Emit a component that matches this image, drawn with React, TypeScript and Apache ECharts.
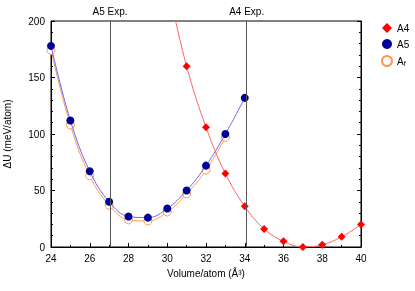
import React, { useEffect, useRef } from "react";
import * as echarts from "echarts";

const a5Volumes = [24, 25, 26, 27, 28, 29, 30, 31, 32, 33, 34];
const a5Values = [178, 112, 67, 40, 27, 26, 34, 50, 72, 100, 132];
const afVolumes = [24, 25, 26, 27, 28, 29, 30, 31, 32, 33];
const afValues = [174, 108, 63, 37, 24, 23, 31, 47, 68, 97];
const a4Volumes = [31, 32, 33, 34, 35, 36, 37, 38, 39, 40];
const a4Values = [160, 106, 65, 36, 16, 5, 0, 2, 9, 20];
// fitted A4 curve continues above the top of the frame
const a4FitStart = [30.2, 218];
const expLines = [
  { name: "A5 Exp.", volume: 27.05 },
  { name: "A4 Exp.", volume: 34.1 },
];
const xTicks = { min: 24, max: 40, step: 2 };
const yTicks = { min: 0, max: 200, step: 50 };

const FONT = "Liberation Sans, Arial, sans-serif";

export default function App() {
  const ref = useRef<HTMLDivElement>(null);
  useEffect(() => {
    if (!ref.current) return;
    const chart = echarts.init(ref.current, null, { renderer: "svg" });
    const zip = (xs: number[], ys: number[]) => xs.map((x, i) => [x, ys[i]]);
    chart.setOption({
      animation: false,
      textStyle: { fontFamily: FONT },
      grid: {
        left: 51, right: 54, top: 21, bottom: 44,
        outerBoundsMode: "none", containLabel: false,
        show: true, borderColor: "#000", borderWidth: 1,
      },
      legend: {
        orient: "vertical",
        left: 376,
        top: 18,
        itemGap: 6,
        itemWidth: 10,
        itemHeight: 10,
        textStyle: { fontSize: 10, color: "#000", fontFamily: FONT, rich: { sub: { fontSize: 7, verticalAlign: "bottom", padding: [5, 0, 0, 0] } } },
        formatter: (n: string) => (n === "Af" ? "A{sub|f}" : n),
        data: [
          { name: "A4", icon: "diamond" },
          { name: "A5", icon: "circle" },
          { name: "Af", icon: "circle" },
        ],
      },
      xAxis: [
        {
          type: "value",
          min: xTicks.min,
          max: xTicks.max,
          interval: xTicks.step,
          name: "Volume/atom (Å³)",
          nameLocation: "middle",
          nameGap: 21,
          nameTextStyle: { fontSize: 10, color: "#000" },
          axisLine: { lineStyle: { color: "#000" } },
          axisTick: { inside: true, length: 4, lineStyle: { color: "#000" } },
          minorTick: { show: true, splitNumber: 2, length: 2, lineStyle: { color: "#000" } },
          axisLabel: { fontSize: 10, color: "#000", margin: 6 },
          splitLine: { show: false },
        },
      ],
      yAxis: [
        {
          type: "value",
          min: yTicks.min,
          max: yTicks.max,
          interval: yTicks.step,
          name: "ΔU (meV/atom)",
          nameLocation: "middle",
          nameGap: 39,
          nameTextStyle: { fontSize: 10, color: "#000" },
          axisLine: { lineStyle: { color: "#000" } },
          axisTick: { inside: true, length: 4, lineStyle: { color: "#000" } },
          minorTick: { show: true, splitNumber: 5, length: 2, lineStyle: { color: "#000" } },
          axisLabel: { fontSize: 10, color: "#000", margin: 6 },
          splitLine: { show: false },
        },
        {
          type: "value",
          position: "right",
          min: yTicks.min,
          max: yTicks.max,
          interval: yTicks.step,
          axisLine: { show: true, lineStyle: { color: "#000" } },
          axisTick: { inside: true, length: 4, lineStyle: { color: "#000" } },
          minorTick: { show: true, splitNumber: 5, length: 2, lineStyle: { color: "#000" } },
          axisLabel: { show: false },
          splitLine: { show: false },
        },
      ],
      series: [
        {
          name: "Af",
          type: "line",
          smooth: 0.4,
          data: zip(afVolumes, afValues),
          symbol: "circle",
          symbolSize: 8,
          itemStyle: { color: "#ffffff", borderColor: "#ff9a50", borderWidth: 1 },
          lineStyle: { color: "#ff9a50", width: 1 },
          z: 2,
        },
        {
          name: "A5",
          type: "line",
          smooth: 0.4,
          data: zip(a5Volumes, a5Values),
          symbol: "circle",
          symbolSize: 8,
          itemStyle: { color: "#000099", borderWidth: 0 },
          lineStyle: { color: "#6666ff", width: 1 },
          z: 3,
          markLine: {
            silent: true,
            symbol: "none",
            lineStyle: { color: "#555", width: 1, type: "solid" },
            label: { position: "end", formatter: "{b}", fontSize: 10, color: "#000", distance: 5 },
            data: expLines.map((e) => ({ name: e.name, xAxis: e.volume })),
          },
        },
        {
          name: "A4",
          type: "line",
          smooth: 0.4,
          data: [{ value: a4FitStart, symbol: "none" }, ...zip(a4Volumes, a4Values)],
          symbol: "diamond",
          symbolSize: 8,
          itemStyle: { color: "#ff0000", borderWidth: 0 },
          lineStyle: { color: "#ff6666", width: 1 },
          clip: true,
          z: 4,
        },
      ],
    });
    return () => chart.dispose();
  }, []);
  return <div ref={ref} style={{ position: "fixed", left: 0, top: 0, width: 415, height: 291 }} />;
}
